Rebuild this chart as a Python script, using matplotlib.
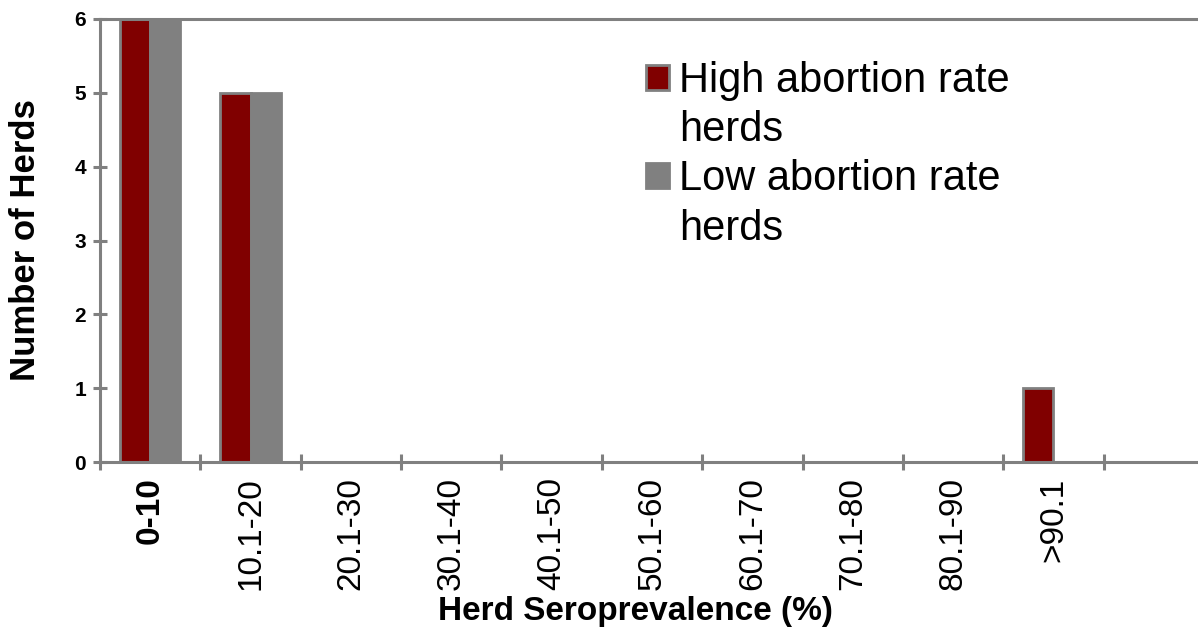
import numpy as np
import matplotlib
matplotlib.use("Agg")
import matplotlib.pyplot as plt
from matplotlib.patches import Rectangle

plt.rcParams['font.family'] = ['Liberation Sans', 'DejaVu Sans']

# data
categories = ['0-10', '10.1-20', '20.1-30', '30.1-40', '40.1-50',
              '50.1-60', '60.1-70', '70.1-80', '80.1-90', '>90.1']
high_herds = [6, 5, 0, 0, 0, 0, 0, 0, 0, 1]
low_herds = [6, 5, 0, 0, 0, 0, 0, 0, 0, 0]

red = '#800000'
grey = '#808080'

fig = plt.figure(figsize=(11.98, 6.41), dpi=100)
ax = fig.add_axes([100 / 1198, 1 - 462 / 641, 1098 / 1198, 443 / 641])

x = np.arange(len(categories))
w = 0.3
ax.bar(x - w / 2, high_herds, w, color=red, edgecolor=grey, linewidth=2, clip_on=False)
ax.bar(x + w / 2, low_herds, w, color=grey, edgecolor=grey, linewidth=2, clip_on=False)

ax.set_xlim(-0.5, 10.44)
ax.set_ylim(0, 6)

for side in ['left', 'bottom', 'top']:
    ax.spines[side].set_color(grey)
    ax.spines[side].set_linewidth(2.2)
ax.spines['right'].set_visible(False)

# y axis
ax.set_yticks(range(7))
ax.tick_params(axis='y', direction='inout', length=10, width=2.2, color=grey,
               labelsize=15, pad=5)
for t in ax.get_yticklabels():
    t.set_fontweight('bold')

# x axis: labels at centres, tick marks between categories
ax.set_xticks(x)
ax.set_xticklabels(categories, rotation=90, fontsize=24)
ax.get_xticklabels()[0].set_fontweight('bold')
ax.set_xticks(np.arange(-0.5, 10, 1), minor=True)
ax.tick_params(axis='x', which='major', length=0, pad=11)
ax.tick_params(axis='x', which='minor', direction='inout', length=11, width=2.2, color=grey)

ax.set_xlabel('Herd Seroprevalence (%)', fontsize=24, fontweight='bold')
ax.set_ylabel('Number of Herds', fontsize=25, fontweight='bold')
ax.xaxis.label.set_va('center')
ax.yaxis.label.set_va('center')
ax.xaxis.set_label_coords(0.488, -0.3386)
ax.yaxis.set_label_coords(-0.0674, 0.5)

# legend, wrapped labels as separate rows
blank = Rectangle((0, 0), 1, 1, visible=False)
handles = [Rectangle((0, 0), 1, 1, facecolor=red, edgecolor=grey, linewidth=2), blank,
           Rectangle((0, 0), 1, 1, facecolor=grey, edgecolor=grey, linewidth=2), blank]
labels = ['High abortion rate', 'herds', 'Low abortion rate', 'herds']
ax.legend(handles, labels, loc='upper left', bbox_to_anchor=(0.497, 0.905),
          frameon=False, fontsize=30, handlelength=0.55, handleheight=0.55,
          handletextpad=0.25, labelspacing=0.22, borderpad=0, borderaxespad=0)

fig.savefig('out.png', dpi=100)
